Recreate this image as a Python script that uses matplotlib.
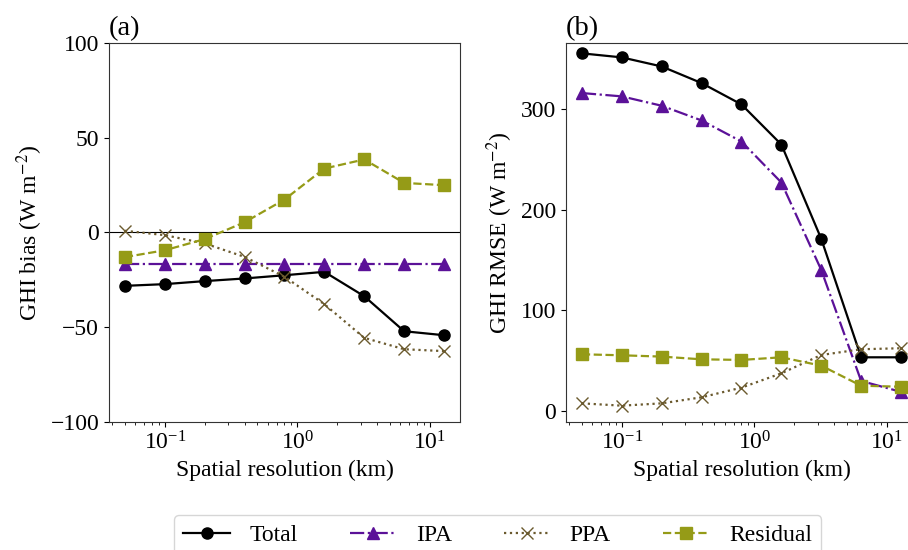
import matplotlib
matplotlib.use('Agg')
import matplotlib.pyplot as plt
import numpy as np

plt.rcParams['font.family'] = 'serif'
plt.rcParams['font.serif'] = ['Liberation Serif', 'DejaVu Serif']
plt.rcParams['mathtext.fontset'] = 'stix'
plt.rcParams['font.size'] = 17

# spatial resolution (km)
res = [0.05, 0.1, 0.2, 0.4, 0.8, 1.6, 3.2, 6.4, 12.8]

# (a) GHI bias
bias_total = [-28.2, -27.3, -25.7, -24.3, -22.6, -20.8, -33.7, -52.2, -54.3]
bias_ipa = [-16.5, -16.5, -16.5, -16.5, -16.5, -16.5, -16.5, -16.5, -16.5]
bias_ppa = [0.9, -1.4, -5.8, -12.9, -23.4, -37.9, -55.7, -61.7, -62.7]
bias_res = [-13.0, -9.4, -3.5, 5.4, 17.4, 33.8, 38.6, 26.2, 25.0]

# (b) GHI RMSE
rmse_total = [355, 351, 342, 325.5, 304.3, 264.5, 170.9, 53.3, 53.3]
rmse_ipa = [315.6, 312.3, 303, 288.4, 267.5, 226.8, 140, 29.8, 19]
rmse_ppa = [7.6, 5.3, 7.6, 13.6, 23.2, 37.4, 55.6, 61.3, 62.3]
rmse_res = [56.3, 55.3, 54, 51.3, 50.7, 53.3, 45, 25.1, 24.1]

c_total = 'black'
c_ipa = '#5b1198'
c_ppa = '#6b5a2e'
c_res = '#959b17'

fig = plt.figure(figsize=(9.08, 5.5), dpi=100)
ax1 = fig.add_axes([0.120, 0.2333, 0.3866, 0.688])
ax2 = fig.add_axes([0.6233, 0.2333, 0.3866, 0.688])

def draw(ax, tot, ipa, ppa, resid):
    ax.plot(res, tot, color=c_total, ls='-', marker='o', ms=8, lw=1.6, label='Total')
    ax.plot(res, ipa, color=c_ipa, ls='-.', marker='^', ms=8, lw=1.6, label='IPA')
    ax.plot(res, ppa, color=c_ppa, ls=':', marker='x', ms=8, lw=1.6, label='PPA')
    ax.plot(res, resid, color=c_res, ls='--', marker='s', ms=8, lw=1.6, label='Residual')
    ax.set_xscale('log')
    ax.set_xlabel('Spatial resolution (km)')
    for s in ax.spines.values():
        s.set_color('#333333')

draw(ax1, bias_total, bias_ipa, bias_ppa, bias_res)
ax1.axhline(0, color='black', lw=0.8, zorder=0)
ax1.set_ylim(-100, 100)
ax1.set_yticks([-100, -50, 0, 50, 100])
ax1.set_ylabel('GHI bias (W m$^{-2}$)')
ax1.set_title('(a)', loc='left')

draw(ax2, rmse_total, rmse_ipa, rmse_ppa, rmse_res)
ax2.set_ylim(-10.6, 365)
ax2.set_yticks([0, 100, 200, 300])
ax2.set_ylabel('GHI RMSE (W m$^{-2}$)')
ax2.set_title('(b)', loc='left')

handles, labels = ax1.get_legend_handles_labels()
fig.legend(handles, labels, loc='upper center', ncol=4, bbox_to_anchor=(0.548, 0.064),
           borderaxespad=0, columnspacing=2.2)

fig.savefig('out.png', dpi=100)
